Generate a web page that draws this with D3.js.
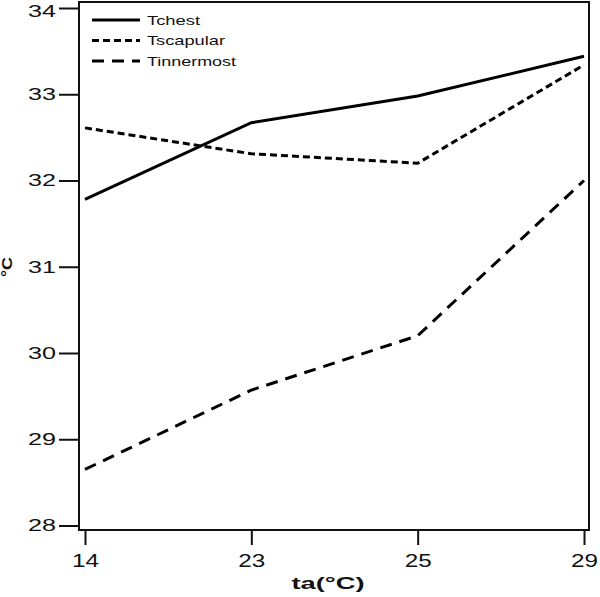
<!DOCTYPE html>
<html>
<head>
<meta charset="utf-8">
<script src="https://cdn.jsdelivr.net/npm/d3@7"></script>
<style>
  body { margin: 0; background: #fff; overflow: hidden; }
  svg { display: block; }
  text { font-family: "Liberation Sans", Arial, sans-serif; fill: #111; }
</style>
</head>
<body>
<div id="container"><svg></svg></div>
<script>
let width = 600;
let height = 597;
let frame = {'left': 79, 'right': 589, 'top': 2, 'bottom': 530};

// data
let categories = ['14', '23', '25', '29'];
let seriesNames = ['Tchest', 'Tscapular', 'Tinnermost'];
let tchest = [31.78, 32.67, 32.98, 33.44];
let tscapular = [32.61, 32.31, 32.20, 33.34];
let tinnermost = [28.65, 29.57, 30.20, 32.00];
let yTicks = [28, 29, 30, 31, 32, 33, 34];
let dashes = ['none', '7,4', '12,8'];

let svg, xScale, yScale;

function draw() {
    let series = [tchest, tscapular, tinnermost];

    xScale = d3.scalePoint()
        .domain(categories)
        .range([85, 584]);
    yScale = d3.scaleLinear()
        .domain([28, 34])
        .range([525.5, 8]);

    // frame
    svg.append('rect')
        .attr('x', frame.left)
        .attr('y', frame.top)
        .attr('width', frame.right - frame.left)
        .attr('height', frame.bottom - frame.top)
        .attr('fill', 'none')
        .attr('stroke', '#111')
        .attr('stroke-width', 2);

    // y axis
    let yAxis = svg.append('g')
        .attr('transform', `translate(${frame.left},0)`)
        .call(d3.axisLeft(yScale).tickValues(yTicks).tickFormat(d3.format('d')).tickSize(20).tickPadding(3));
    yAxis.select('.domain').remove();
    yAxis.selectAll('line').attr('stroke', '#111').attr('stroke-width', 2);
    yAxis.selectAll('text')
        .style('font-size', '17px')
        .attr('fill', '#111')
        .attr('dy', d => d === 34 ? '0.5em' : '0.32em')
        .attr('textLength', 28)
        .attr('lengthAdjust', 'spacingAndGlyphs');

    // x axis
    let xAxis = svg.append('g')
        .attr('transform', `translate(0,${frame.bottom})`)
        .call(d3.axisBottom(xScale).tickSize(15).tickPadding(9));
    xAxis.select('.domain').remove();
    xAxis.selectAll('line').attr('stroke', '#111').attr('stroke-width', 2);
    xAxis.selectAll('text')
        .style('font-size', '18px')
        .attr('fill', '#111')
        .attr('textLength', 27)
        .attr('lengthAdjust', 'spacingAndGlyphs');

    // axis titles
    svg.append('text')
        .attr('x', 328)
        .attr('y', 589)
        .attr('text-anchor', 'middle')
        .style('font-size', '16px')
        .style('font-weight', 'bold')
        .attr('textLength', 73)
        .attr('lengthAdjust', 'spacingAndGlyphs')
        .text('ta(°C)');
    svg.append('text')
        .attr('transform', 'translate(12,267) rotate(-90)')
        .attr('text-anchor', 'middle')
        .style('font-size', '14px')
        .style('font-weight', 'bold')
        .attr('textLength', 20)
        .attr('lengthAdjust', 'spacingAndGlyphs')
        .text('°C');

    // lines
    let line = d3.line()
        .x((d, i) => xScale(categories[i]))
        .y(d => yScale(d));
    svg.append('g')
        .selectAll('path')
        .data(series)
        .join('path')
        .attr('d', line)
        .attr('fill', 'none')
        .attr('stroke', '#000')
        .attr('stroke-width', 3)
        .attr('stroke-dasharray', (d, i) => dashes[i]);

    // legend
    let legendW = [53, 78, 89];
    let legend = svg.append('g')
        .selectAll('g')
        .data(seriesNames)
        .join('g')
        .attr('transform', (d, i) => `translate(92,${20 + i * 20.5})`);
    legend.append('line')
        .attr('x1', 0).attr('x2', 48)
        .attr('stroke', '#000')
        .attr('stroke-width', 3)
        .attr('stroke-dasharray', (d, i) => dashes[i]);
    legend.append('text')
        .attr('x', 55)
        .attr('dy', '0.35em')
        .style('font-size', '13.5px')
        .attr('fill', '#222')
        .attr('textLength', (d, i) => legendW[i])
        .attr('lengthAdjust', 'spacingAndGlyphs')
        .text(d => d);
}

function main() {
    svg = d3.select('#container')
        .select('svg')
        .attr('width', width)
        .attr('height', height);
    draw();
}

main()
</script>
</body>
</html>
